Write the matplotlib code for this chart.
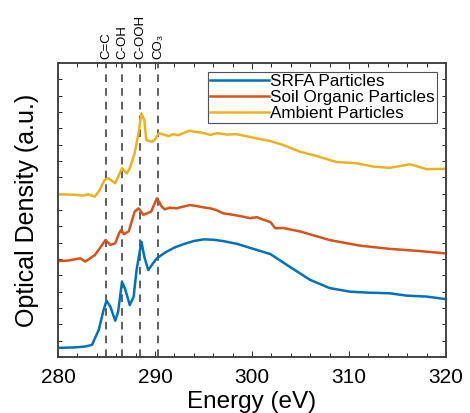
import matplotlib
matplotlib.use("Agg")
import matplotlib.pyplot as plt

plt.rcParams['font.family'] = ['Liberation Sans', 'DejaVu Sans']

# Data (energy in eV, optical density in arbitrary units)
srfa_energy = [280.0, 281.5, 282.8, 283.5, 284.2, 284.7, 285.0, 285.4, 285.9, 286.2, 286.6,
               286.9, 287.4, 287.8, 288.1, 288.6, 288.9, 289.3, 289.8, 290.2, 291.0, 292.0,
               292.9, 294.0, 295.0, 296.0, 297.0, 298.5, 299.8, 301.9, 303.9, 306.0, 308.0,
               310.1, 312.0, 314.2, 315.9, 318.0, 320.0]
srfa_od = [0.028, 0.029, 0.032, 0.037, 0.083, 0.144, 0.172, 0.154, 0.111, 0.139, 0.230,
           0.210, 0.159, 0.185, 0.266, 0.353, 0.307, 0.266, 0.287, 0.302, 0.319, 0.335,
           0.345, 0.355, 0.360, 0.359, 0.355, 0.346, 0.334, 0.315, 0.276, 0.236, 0.211,
           0.200, 0.197, 0.195, 0.188, 0.185, 0.177]

soil_energy = [280.0, 281.0, 282.3, 282.8, 283.8, 284.9, 285.4, 285.9, 286.3, 286.5, 286.8,
               287.3, 287.9, 288.3, 288.8, 289.6, 290.2, 290.7, 291.0, 291.5, 292.2,
               293.0, 293.6, 294.3, 295.0, 295.7, 296.3, 297.0, 298.1, 299.0, 299.8, 300.5,
               301.2, 301.9, 302.4, 303.2, 305.0, 308.0, 311.1, 314.2, 317.0, 320.0]
soil_od = [0.294, 0.295, 0.302, 0.292, 0.312, 0.358, 0.343, 0.348, 0.379, 0.389, 0.376,
           0.385, 0.445, 0.455, 0.435, 0.445, 0.486, 0.460, 0.452, 0.457, 0.455,
           0.461, 0.465, 0.462, 0.458, 0.455, 0.450, 0.440, 0.435, 0.430, 0.425, 0.428,
           0.420, 0.413, 0.394, 0.395, 0.384, 0.358, 0.341, 0.331, 0.325, 0.317]

ambient_energy = [280.0, 281.5, 282.6, 283.1, 283.8, 284.3, 284.8, 285.2, 285.9, 286.6, 287.1,
                  287.4, 287.9, 288.3, 288.6, 288.9, 289.1, 289.7, 290.0, 290.4, 291.0,
                  291.4, 291.9, 292.4, 292.9, 293.6, 294.1, 294.6, 295.2, 295.7, 296.4, 297.4,
                  298.4, 299.4, 300.5, 301.9, 303.2, 305.0, 306.7, 308.7, 310.8, 312.5, 314.2,
                  316.3, 318.0, 320.0]
ambient_od = [0.498, 0.497, 0.494, 0.498, 0.491, 0.511, 0.542, 0.547, 0.532, 0.578, 0.562,
              0.578, 0.623, 0.685, 0.746, 0.725, 0.664, 0.659, 0.666, 0.685, 0.680,
              0.676, 0.682, 0.679, 0.685, 0.693, 0.689, 0.688, 0.684, 0.680, 0.685, 0.681,
              0.682, 0.676, 0.669, 0.661, 0.649, 0.628, 0.615, 0.597, 0.593, 0.583, 0.579,
              0.590, 0.575, 0.576]

series_labels = ["SRFA Particles", "Soil Organic Particles", "Ambient Particles"]
series_colors = ["#0072BD", "#D95319", "#EDB120"]

peak_positions = [285.0, 286.6, 288.5, 290.3]
peak_labels = ["C=C", "C-OH", "C-OOH", "CO₃"]

x_ticks = [280, 290, 300, 310, 320]

fig = plt.figure(figsize=(4.70, 4.13), dpi=100)
ax = fig.add_axes([0.1234, 0.1356, 0.8255, 0.7119])

for e, od, lab, col in zip([srfa_energy, soil_energy, ambient_energy],
                           [srfa_od, soil_od, ambient_od], series_labels, series_colors):
    ax.plot(e, od, color=col, lw=1.8, label=lab, solid_joinstyle='round')

for p, lab in zip(peak_positions, peak_labels):
    ax.axvline(p, color='#333333', lw=1.1, ls=(0, (5, 4)), zorder=0)
    ax.text(p, 1.012, lab, rotation=90, ha='center', va='bottom', fontsize=9.5,
            transform=ax.get_xaxis_transform(), clip_on=False)

ax.set_xlim(280, 320)
ax.set_ylim(0, 0.9)
ax.set_xticks(x_ticks)
ax.set_xticks(range(280, 321, 2), minor=True)
ax.set_yticks([i * 0.05 for i in range(19)])
ax.set_yticklabels([])
ax.tick_params(axis='both', which='both', direction='in', top=True, right=True,
               length=3, width=0.7, color='#262626')
ax.tick_params(axis='x', which='major', labelsize=15, pad=8, length=4)
for s in ax.spines.values():
    s.set_visible(True)
    s.set_edgecolor('#444444')
    s.set_linewidth(1.4)
    s.set_zorder(6)

ax.set_xlabel("Energy (eV)", fontsize=17.5, labelpad=3)
ax.set_ylabel("Optical Density (a.u.)", fontsize=18, labelpad=10)

leg = ax.legend(loc='upper right', fontsize=12.3, frameon=True, fancybox=False,
                edgecolor='#262626', handlelength=3.4, handletextpad=0.1,
                borderpad=0.15, labelspacing=0.05, borderaxespad=0.5)
leg.get_frame().set_linewidth(0.8)

fig.savefig("out.png", dpi=100)
